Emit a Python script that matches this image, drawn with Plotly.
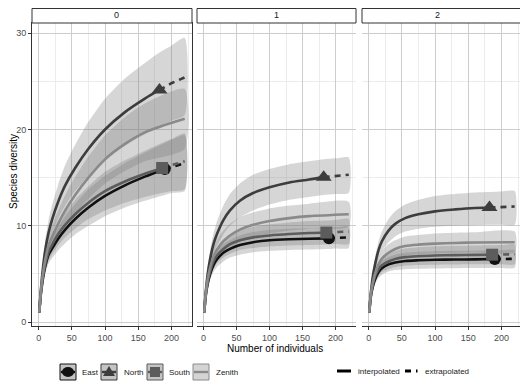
import plotly.graph_objects as go

SITES = ["East", "North", "South", "Zenith"]
ORDERS = ["0", "1", "2"]
X_BASE = [1, 3, 6, 10, 15, 20, 30, 40, 55, 75, 100, 130, 160]
X_EXTRA = [200, 220]
N_OBS = [190, 182, 186, 220]  # East, North, South, Zenith
LINE_TYPES = ["interpolated", "extrapolated"]

# ---- q = 0 ----
EAST_Q0 = [1, 2.7, 4.3, 5.8, 7.0, 7.6, 8.7, 9.6, 10.7, 11.9, 13.1, 14.2, 15.1, 15.9, 16.1, 16.5]
EAST_Q0_LO = [1, 2.4, 3.8, 5.1, 6.1, 6.6, 7.5, 8.2, 9.1, 10.0, 11.0, 11.9, 12.6, 13.2, 13.4, 13.6]
EAST_Q0_HI = [1, 3.0, 4.8, 6.5, 7.9, 8.6, 9.9, 11.0, 12.3, 13.8, 15.2, 16.5, 17.6, 18.6, 18.9, 19.4]
NORTH_Q0 = [1, 3.0, 5.3, 7.5, 9.3, 10.6, 12.6, 14.2, 16.0, 18.0, 20.0, 21.8, 23.2, 24.1, 24.8, 25.4]
NORTH_Q0_LO = [1, 2.6, 4.6, 6.5, 8.0, 9.1, 10.8, 12.1, 13.6, 15.2, 16.8, 18.3, 19.5, 20.2, 20.9, 21.5]
NORTH_Q0_HI = [1, 3.4, 6.0, 8.5, 10.6, 12.1, 14.4, 16.3, 18.4, 20.8, 23.2, 25.3, 26.9, 28.0, 28.7, 29.5]
SOUTH_Q0 = [1, 2.8, 4.5, 6.0, 7.3, 8.0, 9.2, 10.1, 11.2, 12.4, 13.6, 14.6, 15.4, 16.0, 16.3, 16.7]
SOUTH_Q0_LO = [1, 2.5, 4.0, 5.3, 6.4, 7.0, 8.0, 8.8, 9.7, 10.7, 11.6, 12.4, 13.0, 13.4, 13.6, 13.8]
SOUTH_Q0_HI = [1, 3.1, 5.0, 6.7, 8.2, 9.0, 10.4, 11.4, 12.7, 14.1, 15.6, 16.8, 17.8, 18.6, 19.0, 19.6]
ZENITH_Q0 = [1, 2.9, 4.8, 6.5, 8.0, 8.8, 10.3, 11.6, 13.2, 15.0, 16.9, 18.5, 19.7, 21.1]
ZENITH_Q0_LO = [1, 2.6, 4.2, 5.7, 6.9, 7.6, 8.9, 10.0, 11.3, 12.8, 14.4, 15.7, 16.7, 18.0]
ZENITH_Q0_HI = [1, 3.2, 5.4, 7.3, 9.1, 10.0, 11.7, 13.2, 15.1, 17.2, 19.4, 21.3, 22.7, 24.2]

# ---- q = 1 ----
EAST_Q1 = [1, 2.6, 3.9, 5.0, 5.9, 6.5, 7.2, 7.6, 8.0, 8.3, 8.5, 8.6, 8.65, 8.7, 8.75, 8.8]
EAST_Q1_LO = [1, 2.3, 3.5, 4.4, 5.2, 5.7, 6.3, 6.7, 7.0, 7.25, 7.4, 7.5, 7.55, 7.6, 7.65, 7.7]
EAST_Q1_HI = [1, 2.9, 4.3, 5.6, 6.6, 7.3, 8.1, 8.5, 9.0, 9.35, 9.6, 9.7, 9.75, 9.8, 9.85, 9.9]
NORTH_Q1 = [1, 2.9, 4.9, 6.6, 8.1, 9.1, 10.6, 11.6, 12.6, 13.4, 14.0, 14.5, 14.8, 15.05, 15.2, 15.3]
NORTH_Q1_LO = [1, 2.6, 4.3, 5.8, 7.0, 7.9, 9.1, 10.0, 10.9, 11.6, 12.2, 12.7, 13.0, 13.2, 13.3, 13.4]
NORTH_Q1_HI = [1, 3.2, 5.5, 7.5, 9.2, 10.4, 12.1, 13.3, 14.4, 15.3, 15.9, 16.4, 16.7, 16.9, 17.0, 17.1]
SOUTH_Q1 = [1, 2.7, 4.1, 5.3, 6.3, 6.9, 7.6, 8.1, 8.5, 8.8, 9.0, 9.15, 9.25, 9.3, 9.35, 9.4]
SOUTH_Q1_LO = [1, 2.4, 3.7, 4.7, 5.6, 6.1, 6.7, 7.1, 7.5, 7.7, 7.85, 7.95, 8.0, 8.05, 8.1, 8.1]
SOUTH_Q1_HI = [1, 3.0, 4.5, 5.9, 7.0, 7.7, 8.5, 9.1, 9.5, 9.9, 10.15, 10.35, 10.5, 10.55, 10.6, 10.7]
ZENITH_Q1 = [1, 2.8, 4.4, 5.7, 6.8, 7.5, 8.4, 9.0, 9.6, 10.1, 10.5, 10.8, 11.0, 11.2]
ZENITH_Q1_LO = [1, 2.5, 3.9, 5.0, 5.9, 6.5, 7.3, 7.8, 8.3, 8.8, 9.2, 9.5, 9.7, 9.9]
ZENITH_Q1_HI = [1, 3.1, 4.9, 6.4, 7.7, 8.5, 9.5, 10.2, 10.9, 11.4, 11.8, 12.1, 12.3, 12.5]

# ---- q = 2 ----
EAST_Q2 = [1, 2.5, 3.6, 4.5, 5.2, 5.6, 6.0, 6.2, 6.35, 6.42, 6.47, 6.5, 6.52, 6.55, 6.55, 6.57]
EAST_Q2_LO = [1, 2.2, 3.2, 4.0, 4.6, 4.9, 5.25, 5.4, 5.5, 5.55, 5.58, 5.6, 5.62, 5.63, 5.63, 5.64]
EAST_Q2_HI = [1, 2.8, 4.0, 5.0, 5.8, 6.3, 6.75, 7.0, 7.2, 7.3, 7.36, 7.4, 7.42, 7.45, 7.46, 7.48]
NORTH_Q2 = [1, 2.8, 4.6, 6.1, 7.5, 8.4, 9.5, 10.2, 10.8, 11.2, 11.5, 11.7, 11.85, 11.9, 11.95, 12.0]
NORTH_Q2_LO = [1, 2.5, 4.1, 5.4, 6.6, 7.4, 8.3, 8.9, 9.4, 9.7, 9.9, 10.0, 10.05, 10.1, 10.1, 10.1]
NORTH_Q2_HI = [1, 3.1, 5.1, 6.8, 8.4, 9.4, 10.7, 11.5, 12.2, 12.7, 13.1, 13.3, 13.45, 13.5, 13.55, 13.6]
SOUTH_Q2 = [1, 2.6, 3.8, 4.8, 5.5, 5.9, 6.3, 6.55, 6.75, 6.85, 6.92, 6.96, 6.98, 7.0, 7.02, 7.05]
SOUTH_Q2_LO = [1, 2.3, 3.4, 4.2, 4.8, 5.2, 5.5, 5.7, 5.85, 5.92, 5.96, 5.98, 6.0, 6.0, 6.0, 6.0]
SOUTH_Q2_HI = [1, 2.9, 4.2, 5.4, 6.2, 6.6, 7.1, 7.4, 7.65, 7.78, 7.87, 7.93, 7.96, 7.98, 8.0, 8.05]
ZENITH_Q2 = [1, 2.7, 4.0, 5.1, 6.0, 6.6, 7.2, 7.6, 7.9, 8.05, 8.15, 8.22, 8.27, 8.3]
ZENITH_Q2_LO = [1, 2.4, 3.6, 4.5, 5.3, 5.8, 6.3, 6.7, 6.9, 7.05, 7.12, 7.18, 7.22, 7.25]
ZENITH_Q2_HI = [1, 3.0, 4.4, 5.7, 6.7, 7.4, 8.1, 8.5, 8.9, 9.05, 9.2, 9.28, 9.33, 9.4]

X_TICKS = [0, 50, 100, 150, 200]
Y_TICKS = [0, 10, 20, 30]
X_TITLE = "Number of individuals"
Y_TITLE = "Species diversity"

LINE_COLORS = ["#111111", "#3d3d3d", "#5c5c5c", "#8a8a8a"]
SYMBOLS = ["circle", "triangle-up", "square", None]
MARKER_SIZES = [12, 14, 12, 0]
BAND = "rgba(120,120,120,0.30)"
KEY_FILLS = ["#c4c4c4", "#c4c4c4", "#c4c4c4", "#d4d4d4"]

table = {
    "0": [(EAST_Q0, EAST_Q0_LO, EAST_Q0_HI), (NORTH_Q0, NORTH_Q0_LO, NORTH_Q0_HI),
          (SOUTH_Q0, SOUTH_Q0_LO, SOUTH_Q0_HI), (ZENITH_Q0, ZENITH_Q0_LO, ZENITH_Q0_HI)],
    "1": [(EAST_Q1, EAST_Q1_LO, EAST_Q1_HI), (NORTH_Q1, NORTH_Q1_LO, NORTH_Q1_HI),
          (SOUTH_Q1, SOUTH_Q1_LO, SOUTH_Q1_HI), (ZENITH_Q1, ZENITH_Q1_LO, ZENITH_Q1_HI)],
    "2": [(EAST_Q2, EAST_Q2_LO, EAST_Q2_HI), (NORTH_Q2, NORTH_Q2_LO, NORTH_Q2_HI),
          (SOUTH_Q2, SOUTH_Q2_LO, SOUTH_Q2_HI), (ZENITH_Q2, ZENITH_Q2_LO, ZENITH_Q2_HI)],
}


def xs_for(n):
    return X_BASE + [n] + ([v for v in X_EXTRA if v > n])


# The page body adds an 8px margin, so the figure is drawn 8px smaller and
# all layout positions are given in reference-image pixels minus that offset.
OFF = 8
W, H = 528 - OFF, 391 - OFF
PLOT_L, PLOT_R, PLOT_T, PLOT_B = 32 - OFF, 522 - OFF, 23 - OFF, 326 - OFF
ML, MR, MT, MB = PLOT_L, W - PLOT_R, PLOT_T, H - PLOT_B
PW = PLOT_R - PLOT_L
PH = PLOT_B - PLOT_T
panel_px = [(32, 192), (197, 356), (362, 522)]


def px(x):
    return (x - OFF - PLOT_L) / PW


def py(y):
    return (PLOT_B - (y - OFF)) / PH


domains = [[px(a), px(b)] for a, b in panel_px]

fig = go.Figure()
for pi, q in enumerate(ORDERS):
    xa = "x" if pi == 0 else f"x{pi + 1}"
    for si, site in enumerate(SITES):
        est, lo, hi = table[q][si]
        xs = xs_for(N_OBS[si])
        fig.add_trace(go.Scatter(x=xs + xs[::-1], y=hi + lo[::-1], fill="toself",
                                 fillcolor=BAND, line=dict(width=0, shape="spline", smoothing=0.6),
                                 mode="lines", hoverinfo="skip", showlegend=False,
                                 xaxis=xa, yaxis="y"))
    for si, site in enumerate(SITES):
        est, lo, hi = table[q][si]
        xs = xs_for(N_OBS[si])
        k = xs.index(N_OBS[si])
        fig.add_trace(go.Scatter(x=xs[:k + 1], y=est[:k + 1], mode="lines", name=site,
                                 line=dict(color=LINE_COLORS[si], width=2.6, shape="spline", smoothing=0.8),
                                 showlegend=False, xaxis=xa, yaxis="y"))
        if k < len(xs) - 1:
            fig.add_trace(go.Scatter(x=xs[k:], y=est[k:], mode="lines", name=site,
                                     line=dict(color=LINE_COLORS[si], width=2.6, dash="6px,5px"),
                                     showlegend=False, xaxis=xa, yaxis="y"))
    for si, site in enumerate(SITES):
        if SYMBOLS[si] is None:
            continue
        est, lo, hi = table[q][si]
        xs = xs_for(N_OBS[si])
        k = xs.index(N_OBS[si])
        fig.add_trace(go.Scatter(x=[xs[k]], y=[est[k]], mode="markers", name=site,
                                 marker=dict(symbol=SYMBOLS[si], size=MARKER_SIZES[si],
                                             color=LINE_COLORS[si]),
                                 showlegend=False, xaxis=xa, yaxis="y"))

axis_common = dict(range=[-10, 231], tickvals=X_TICKS, ticks="outside", ticklen=3,
                   tickcolor="#333333", tickfont=dict(size=9, color="#4d4d4d"),
                   showgrid=True, gridcolor="#cdcdcd", gridwidth=1,
                   minor=dict(dtick=25, tick0=0, showgrid=True, gridcolor="#ececec", gridwidth=0.6),
                   showline=True, mirror=True, linecolor="#333333", linewidth=1,
                   zeroline=False, anchor="y")
layout_axes = {}
for pi in range(3):
    key = "xaxis" if pi == 0 else f"xaxis{pi + 1}"
    layout_axes[key] = dict(axis_common, domain=domains[pi])

shapes = []
annotations = []
for pi, q in enumerate(ORDERS):
    x0, x1 = domains[pi]
    shapes.append(dict(type="rect", xref="paper", yref="paper", x0=x0, x1=x1,
                       y0=1.0, y1=py(OFF + 0.5), line=dict(color="#333333", width=1),
                       fillcolor="white", layer="above"))
    annotations.append(dict(text=q, xref="paper", yref="paper", x=(x0 + x1) / 2,
                            y=py(15.5), showarrow=False,
                            font=dict(size=9, color="#1a1a1a"), yanchor="middle"))

annotations.append(dict(text=X_TITLE, xref="paper", yref="paper", x=px(275), y=py(348),
                        yanchor="middle", xanchor="center", showarrow=False,
                        font=dict(size=10, color="#000000")))
annotations.append(dict(text=Y_TITLE, xref="paper", yref="paper", x=px(13), y=py(172),
                        xanchor="center", yanchor="middle", textangle=-90, showarrow=False,
                        font=dict(size=10, color="#000000")))

# ---- manual legend (keys as shapes, labels as text) ----
KEY_LEFT = [60, 101, 147, 193]
TEXT_LEFT = [80, 122, 167, 214]
KEY_TOP, KEY_BOT, KEY_MID = 364, 380, 372
LEG_FONT = dict(size=8, color="#1a1a1a")
for si, site in enumerate(SITES):
    a = KEY_LEFT[si]
    shapes.append(dict(type="rect", xref="paper", yref="paper", x0=px(a), x1=px(a + 16),
                       y0=py(KEY_BOT), y1=py(KEY_TOP), fillcolor=KEY_FILLS[si],
                       line=dict(color=LINE_COLORS[si], width=1)))
    shapes.append(dict(type="line", xref="paper", yref="paper", x0=px(a + 1), x1=px(a + 15),
                       y0=py(KEY_MID), y1=py(KEY_MID), line=dict(color=LINE_COLORS[si], width=2.4)))
    c = a + 8
    if SYMBOLS[si] == "circle":
        shapes.append(dict(type="circle", xref="paper", yref="paper", x0=px(c - 6), x1=px(c + 6),
                           y0=py(KEY_MID + 5), y1=py(KEY_MID - 5), fillcolor=LINE_COLORS[si],
                           line=dict(width=0)))
    elif SYMBOLS[si] == "triangle-up":
        path = (f"M {px(c - 6)},{py(KEY_MID + 4)} L {px(c + 6)},{py(KEY_MID + 4)} "
                f"L {px(c)},{py(KEY_MID - 6)} Z")
        shapes.append(dict(type="path", xref="paper", yref="paper", path=path,
                           fillcolor=LINE_COLORS[si], line=dict(width=0)))
    elif SYMBOLS[si] == "square":
        shapes.append(dict(type="rect", xref="paper", yref="paper", x0=px(c - 5), x1=px(c + 5),
                           y0=py(KEY_MID + 5), y1=py(KEY_MID - 5), fillcolor=LINE_COLORS[si],
                           line=dict(width=0)))
    annotations.append(dict(text=site, xref="paper", yref="paper", x=px(TEXT_LEFT[si]), y=py(KEY_MID),
                            xanchor="left", yanchor="middle", showarrow=False, font=LEG_FONT))

# line type keys
shapes.append(dict(type="line", xref="paper", yref="paper", x0=px(337), x1=px(351),
                   y0=py(371), y1=py(371), line=dict(color="#000000", width=3)))
annotations.append(dict(text=LINE_TYPES[0], xref="paper", yref="paper", x=px(356), y=py(371),
                        xanchor="left", yanchor="middle", showarrow=False, font=LEG_FONT))
shapes.append(dict(type="line", xref="paper", yref="paper", x0=px(405), x1=px(411),
                   y0=py(371), y1=py(371), line=dict(color="#000000", width=3)))
shapes.append(dict(type="line", xref="paper", yref="paper", x0=px(416), x1=px(417.5),
                   y0=py(371), y1=py(371), line=dict(color="#000000", width=3)))
annotations.append(dict(text=LINE_TYPES[1], xref="paper", yref="paper", x=px(423), y=py(371),
                        xanchor="left", yanchor="middle", showarrow=False, font=LEG_FONT))

fig.update_layout(
    width=W, height=H,
    margin=dict(l=ML, r=MR, t=MT, b=MB),
    paper_bgcolor="white", plot_bgcolor="white",
    font=dict(family="Liberation Sans, Arial, sans-serif"),
    showlegend=False,
    yaxis=dict(range=[-0.4, 31.05], tickvals=Y_TICKS, ticks="outside", ticklen=3,
               tickcolor="#333333", tickfont=dict(size=9, color="#4d4d4d"),
               showgrid=True, gridcolor="#cdcdcd", gridwidth=1,
               minor=dict(dtick=5, tick0=0, showgrid=True, gridcolor="#ececec", gridwidth=0.6),
               showline=True, mirror=True, linecolor="#333333", linewidth=1, zeroline=False),
    shapes=shapes, annotations=annotations,
    **layout_axes,
)

fig.write_html("out.html")
